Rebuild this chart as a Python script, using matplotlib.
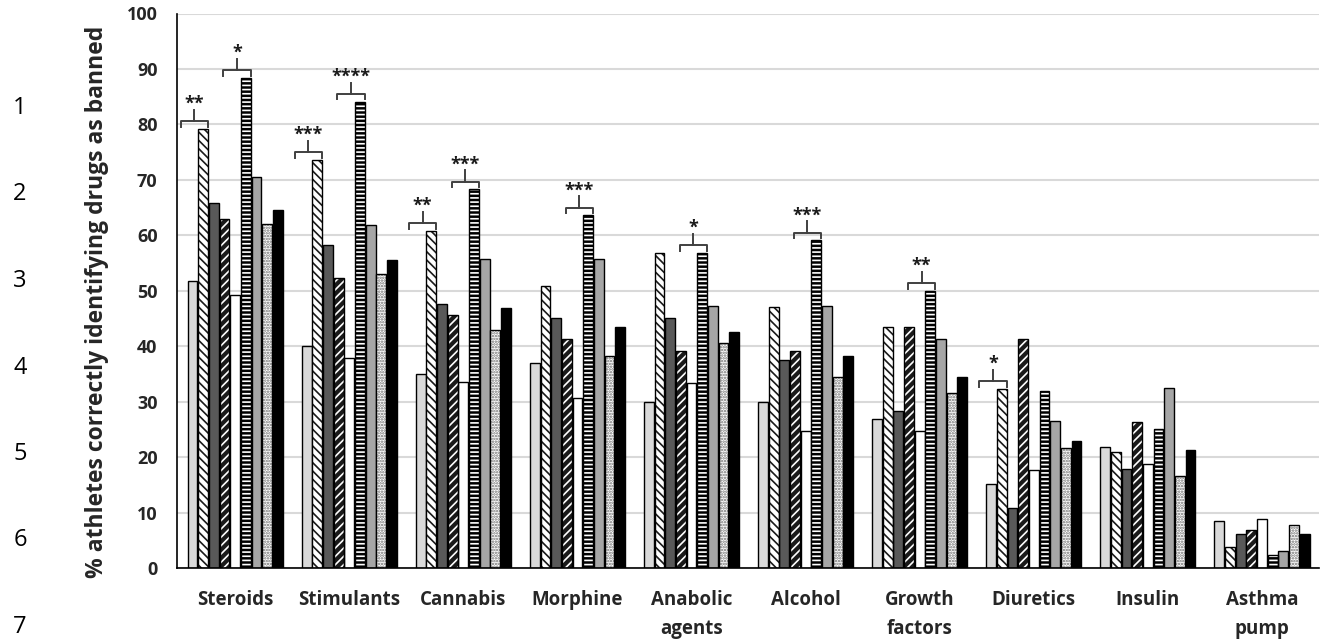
import matplotlib.pyplot as plt
import numpy as np

categories = ["Steroids", "Stimulants", "Cannabis", "Morphine", "Anabolic\nagents",
              "Alcohol", "Growth\nfactors", "Diuretics", "Insulin", "Asthma\npump"]

# % of athletes per group, one list per bar series (same order as categories)
s1 = [51.8, 40.0, 35.0, 36.9, 30.0, 30.0, 26.9, 15.1, 21.9, 8.5]
s2 = [79.2, 73.6, 60.8, 50.8, 56.8, 47.1, 43.4, 32.3, 21.0, 3.8]
s3 = [65.8, 58.3, 47.7, 45.0, 45.0, 37.5, 28.4, 10.8, 17.9, 6.1]
s4 = [63.0, 52.3, 45.6, 41.3, 39.1, 39.1, 43.4, 41.3, 26.3, 6.8]
s5 = [49.3, 37.8, 33.5, 30.6, 33.4, 24.7, 24.7, 17.6, 18.8, 8.8]
s6 = [88.4, 84.1, 68.3, 63.6, 56.8, 59.1, 50.0, 32.0, 25.1, 2.3]
s7 = [70.5, 61.8, 55.8, 55.8, 47.2, 47.2, 41.3, 26.6, 32.4, 3.0]
s8 = [62.1, 53.0, 43.0, 38.2, 40.6, 34.4, 31.6, 21.6, 16.6, 7.7]
s9 = [64.6, 55.6, 46.8, 43.4, 42.5, 38.2, 34.5, 22.9, 21.3, 6.2]
series = [s1, s2, s3, s4, s5, s6, s7, s8, s9]

# significance brackets: category, first bar of the compared pair, stars
sig_category = [0, 0, 1, 1, 2, 2, 3, 4, 5, 6, 7]
sig_bar = [0, 4, 0, 4, 0, 4, 4, 4, 4, 4, 0]
sig_stars = ["**", "*", "***", "****", "**", "***", "***", "*", "***", "**", "*"]

line_numbers = ["1", "2", "3", "4", "5", "6", "7"]

# face colour, hatch, hatch colour
styles = [
    ("#d9d9d9", None, None),
    ("white", "\\\\\\\\", "#1a1a1a"),
    ("#595959", None, None),
    ("#1a1a1a", "////", "white"),
    ("white", None, None),
    ("black", "----", "white"),
    ("#a6a6a6", None, None),
    ("white", "......", "#707070"),
    ("black", None, None),
]

plt.rcParams["font.family"] = "Open Sans"
plt.rcParams["hatch.linewidth"] = 1.2

W, H = 1327, 641
fig = plt.figure(figsize=(W / 100, H / 100), dpi=100)
ax = fig.add_axes([177 / W, 1 - 568 / H, (1319 - 177) / W, (568 - 13.5) / H])

x = np.arange(len(categories))
step = 0.0935
width = 0.086
offsets = (np.arange(len(series)) - (len(series) - 1) / 2) * step

for vals, off, (face, hatch, hcol) in zip(series, offsets, styles):
    if hatch:
        ax.bar(x + off, vals, width, color=face, edgecolor=hcol, hatch=hatch,
               linewidth=0, zorder=2)
        ax.bar(x + off, vals, width, fill=False, edgecolor="black", linewidth=1.0, zorder=3)
    else:
        ax.bar(x + off, vals, width, color=face, edgecolor="black", linewidth=1.0, zorder=2)

# brackets with stars over the compared pairs
for cat, b, stars in zip(sig_category, sig_bar, sig_stars):
    right = x[cat] + offsets[b + 1] + width / 2
    left = right - 0.24
    mid = (left + right) / 2
    top = max(series[b][cat], series[b + 1][cat]) + 1.4
    ax.plot([left, left, right, right], [top - 1.0, top, top, top - 1.0],
            color="#404040", linewidth=1.4, solid_joinstyle="round", zorder=4)
    ax.plot([mid, mid], [top, top + 2.0], color="#404040", linewidth=1.4, zorder=4)
    ax.text(mid, top + 2.2, stars, ha="center", va="baseline", fontsize=13,
            fontweight="bold", color="#1a1a1a")

ax.set_xlim(-0.51, 9.5)
ax.set_ylim(0, 100)
ax.set_yticks(np.arange(0, 101, 10))
ax.set_xticks(x)
ax.set_xticklabels(categories, fontsize=13.5, fontweight="bold", color="#262626",
                   linespacing=1.56, va="top")
for lab in ax.get_yticklabels():
    lab.set_fontweight("bold")
    lab.set_fontsize(13)
    lab.set_color("#262626")
ax.tick_params(axis="y", length=0, pad=14)
ax.tick_params(axis="x", length=0, pad=16)

ax.yaxis.grid(True, color="#d9d9d9", linewidth=1.5)
ax.set_axisbelow(True)
for side in ["top", "right"]:
    ax.spines[side].set_visible(False)
ax.spines["left"].set_linewidth(1.2)
ax.spines["bottom"].set_linewidth(1.2)

fig.text(97 / W, 1 - 302 / H, "% athletes correctly identifying drugs as banned",
         rotation=90, ha="center", va="center", fontsize=16.5, fontweight="bold",
         color="#262626")

# document line numbers down the left margin
for i, num in enumerate(line_numbers):
    fig.text(20 / W, 1 - (108 + i * 86.5) / H, num, ha="center", va="center",
             fontsize=17, color="black")

fig.savefig("out.png", dpi=100)
